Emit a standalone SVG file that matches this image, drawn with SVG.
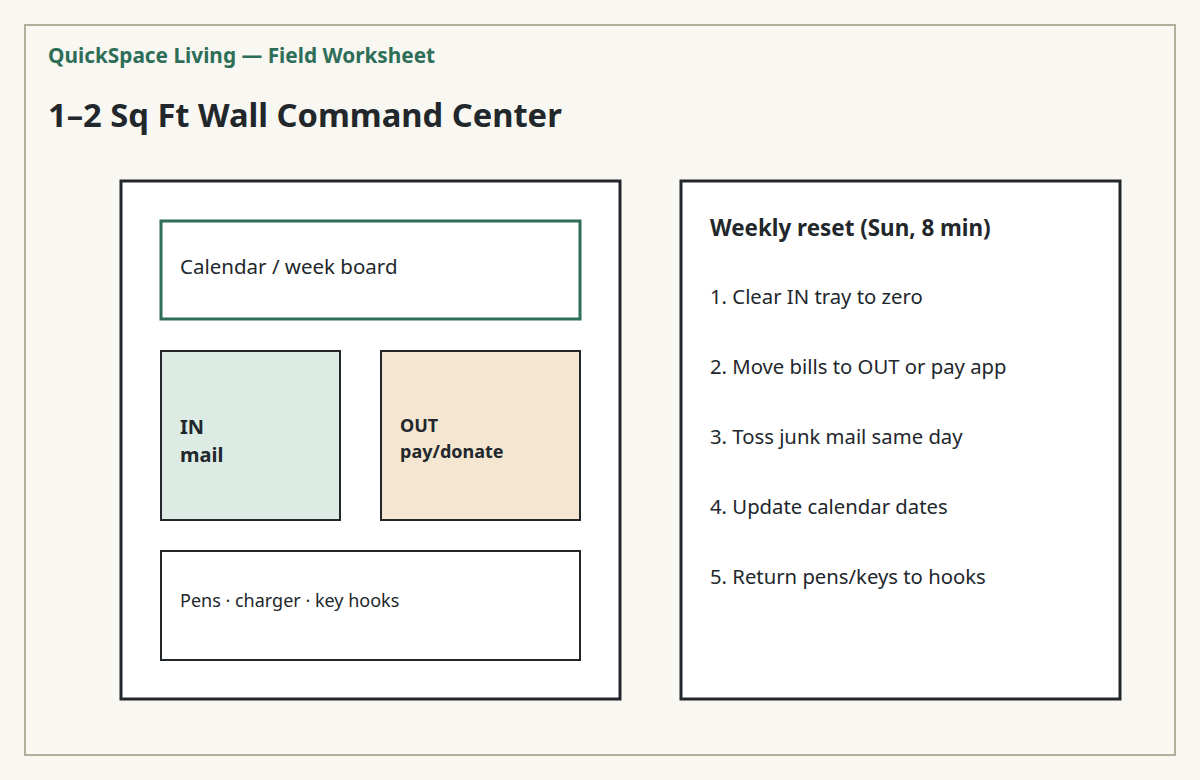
<svg xmlns="http://www.w3.org/2000/svg" width="1200" height="780" viewBox="0 0 1200 780">
<style>
text{font-family:"Noto Sans","Open Sans",sans-serif;fill:#22272c}
.b{font-weight:bold}
.panel{fill:#fff;stroke:#22272c;stroke-width:3}
.box{stroke:#22272c;stroke-width:2}
.item{font-size:20.3px}
</style>
<rect width="1200" height="780" fill="#f9f7f2"/>
<rect x="25" y="25" width="1150" height="730" fill="#f9f7f2" stroke="#b3ad9c" stroke-width="2"/>
<text x="48" y="63" class="b" font-size="20.8" style="fill:#2e6e58">QuickSpace Living — Field Worksheet</text>
<text x="48" y="127" class="b" font-size="32.7">1–2 Sq Ft Wall Command Center</text>
<g id="wall">
<rect class="panel" x="121" y="181" width="499" height="518"/>
</g>
<g id="calendar">
<rect x="161" y="221" width="419" height="98" fill="#fff" stroke="#2e6e58" stroke-width="3"/>
<text x="180" y="274" font-size="20.5">Calendar / week board</text>
</g>
<g id="in">
<rect class="box" x="161" y="351" width="179" height="169" fill="#dcebe4"/>
<text x="180" y="434" class="b" font-size="20">IN</text>
<text x="180" y="462" class="b" font-size="20">mail</text>
</g>
<g id="out">
<rect class="box" x="381" y="351" width="199" height="169" fill="#f5e6d2"/>
<text x="400" y="432" class="b" font-size="18">OUT</text>
<text x="400" y="458" class="b" font-size="18">pay/donate</text>
</g>
<g id="hooks">
<rect class="box" x="161" y="551" width="419" height="109" fill="#fff"/>
<text x="180" y="607" font-size="18">Pens · charger · key hooks</text>
</g>
<g id="reset">
<rect class="panel" x="681" y="181" width="439" height="518"/>
<text x="710" y="236" class="b" font-size="22.4">Weekly reset (Sun, 8 min)</text>
<text x="710" y="304" class="item">1. Clear IN tray to zero</text>
<text x="710" y="374" class="item">2. Move bills to OUT or pay app</text>
<text x="710" y="444" class="item">3. Toss junk mail same day</text>
<text x="710" y="514" class="item">4. Update calendar dates</text>
<text x="710" y="584" class="item">5. Return pens/keys to hooks</text>
</g>
<g id="connectors"/>
</svg>
